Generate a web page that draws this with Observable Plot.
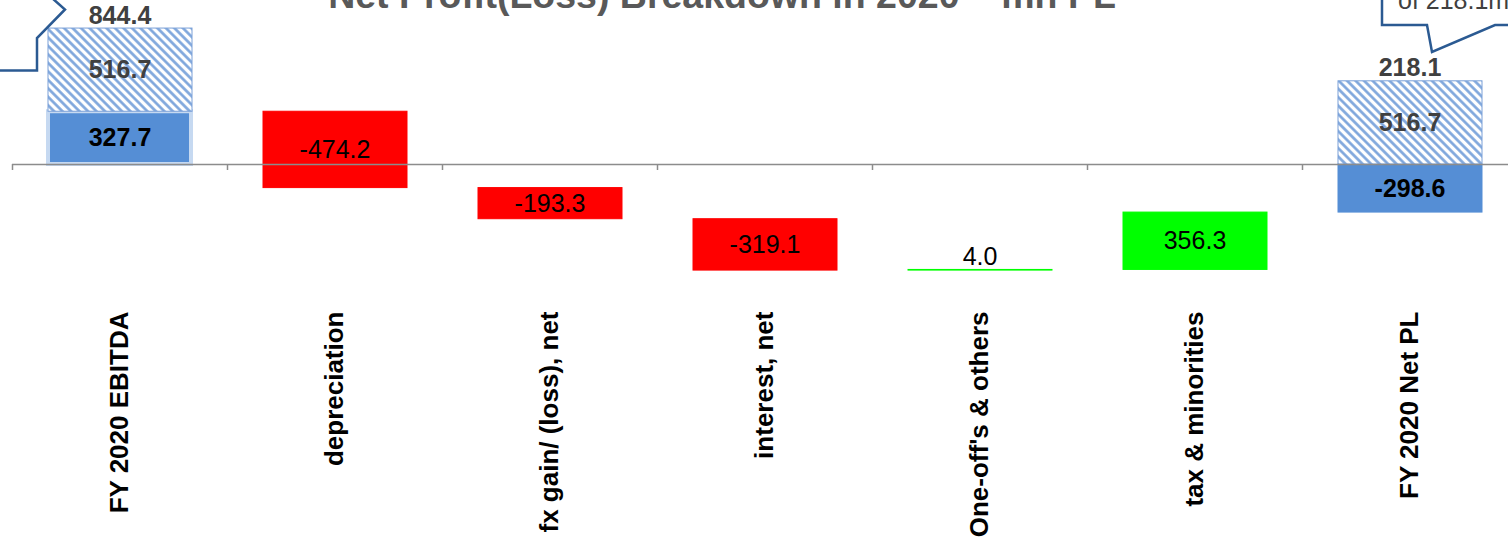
<!DOCTYPE html>
<html><head><meta charset="utf-8">
<script src="https://cdn.jsdelivr.net/npm/d3@7"></script>
<script src="https://cdn.jsdelivr.net/npm/@observablehq/plot@0.6"></script>
<style>
html,body{margin:0;padding:0;background:#fff;overflow:hidden}
#wrap{position:relative;width:1508px;height:542px;overflow:hidden;font-family:"Liberation Sans",Arial,sans-serif}
#title{position:absolute;left:0;width:1444px;text-align:center;top:-23px;font-size:37.5px;line-height:37.5px;font-weight:bold;color:#595959;white-space:nowrap}
#callouts{position:absolute;left:0;top:0;pointer-events:none}
#chart svg{display:block}
#chart g[aria-label="x-axis tick label"] text{font-weight:bold}
</style>
</head><body>
<div id="wrap">
  <div id="chart"></div>
  <div id="title">Net Profit(Loss) Breakdown in 2020 – mn PL</div>
  <svg id="callouts" width="1508" height="100">
    <path d="M0,70.5 L37,70.5 L37,38 L65,9.5 L52,-2" fill="none" stroke="#2b5a92" stroke-width="2.5" stroke-linejoin="miter"/>
    <path d="M1382,-2 L1382,25 L1427,25 L1432,52 L1495,25 L1512,25" fill="#fff" stroke="#2b5a92" stroke-width="2.5" stroke-linejoin="miter"/>
    <text x="1398" y="9" font-family="Liberation Sans, Arial, sans-serif" font-size="25" fill="#404040">of 218.1mn</text>
  </svg>
</div>
<script>
const categories = ["FY 2020 EBITDA", "depreciation", "fx gain/ (loss), net", "interest, net", "One-off's & others", "tax & minorities", "FY 2020 Net PL"];
const values = [327.7, -474.2, -193.3, -319.1, 4.0, 356.3, -298.6];
const kinds = ["total", "change", "change", "change", "change", "change", "total"];
const hatchCategories = ["FY 2020 EBITDA", "FY 2020 Net PL"];
const hatchValues = [516.7, 516.7];
const hatchTotals = [844.4, 218.1];

// waterfall rows
let cum = 0;
const rows = categories.map((c, i) => {
  const v = values[i];
  let y1, y2;
  if (kinds[i] === "total") { y1 = 0; y2 = v; cum = v; }
  else { y1 = cum; y2 = cum + v; cum += v; }
  const fill = kinds[i] === "total" ? "#558ed5" : (v < 0 ? "#ff0000" : "#00ff00");
  return {cat: c, v, y1, y2, kind: kinds[i], fill, label: v.toFixed(1)};
});
const hatchRows = hatchCategories.map((c, i) => {
  const base = Math.max(0, rows.find(r => r.cat === c).y2);
  return {cat: c, y1: base, y2: base + hatchValues[i], label: hatchValues[i].toFixed(1), total: hatchTotals[i].toFixed(1)};
});

const K = 0.161, Y0 = 164;
const defs = () => {
  const g = d3.create("svg:defs");
  const p = g.append("pattern").attr("id", "hatch").attr("patternUnits", "userSpaceOnUse")
    .attr("width", 6).attr("height", 6).attr("patternTransform", "rotate(-45)");
  p.append("rect").attr("width", 6).attr("height", 6).attr("fill", "#ffffff");
  p.append("line").attr("x1", 1.5).attr("y1", 0).attr("x2", 1.5).attr("y2", 6)
    .attr("stroke", "#7aa3db").attr("stroke-width", 2.6);
  return g.node();
};

const chart = Plot.plot({
  width: 1508,
  height: 542,
  marginLeft: 12,
  marginRight: 0,
  marginTop: 0,
  marginBottom: 237,
  style: {fontFamily: "Liberation Sans, Arial, sans-serif", background: "#fff", overflow: "visible"},
  x: {domain: categories, range: [12, 1517], padding: 0},
  y: {domain: [-700, 1000], range: [Y0 + K * 700, Y0 - K * 1000]},
  marks: [
    defs,
    Plot.barY(rows.filter(r => r.cat === "FY 2020 EBITDA"), {x: "cat", y1: "y1", y2: "y2", fill: "fill", stroke: "#c6d9f1", strokeWidth: 4, insetLeft: 36, insetRight: 36}),
    Plot.barY(rows.filter(r => r.cat !== "FY 2020 EBITDA"), {x: "cat", y1: "y1", y2: "y2", fill: "fill", stroke: "fill", strokeWidth: 1, insetLeft: 36, insetRight: 35}),
    Plot.barY(hatchRows, {x: "cat", y1: "y1", y2: "y2", fill: "url(#hatch)", stroke: "#7aa0d8", strokeWidth: 1, insetLeft: 36, insetRight: 35}),
    Plot.ruleY([0], {stroke: "#8c8c8c", strokeWidth: 1.5}),
    Plot.ruleX(categories, {x: d => d, y1: 0, y2: 0, insetBottom: -6, dx: -107.5, stroke: "#8c8c8c", strokeWidth: 1.5}),
    // change labels
    Plot.text(rows.filter(r => r.kind === "change" && Math.abs(r.v) > 20), {x: "cat", y: r => (r.y1 + r.y2) / 2, text: "label", fontSize: 25, fill: "#000"}),
    Plot.text(rows.filter(r => r.kind === "change" && Math.abs(r.v) <= 20), {x: "cat", y: r => Math.max(r.y1, r.y2), text: "label", fontSize: 25, fill: "#000", dy: -13}),
    // totals
    Plot.text(rows.filter(r => r.kind === "total"), {x: "cat", y: r => (r.y1 + r.y2) / 2, text: "label", fontSize: 25, fontWeight: "bold", fill: "#000"}),
    Plot.text(hatchRows, {x: "cat", y: r => (r.y1 + r.y2) / 2, text: "label", fontSize: 25, fontWeight: "bold", fill: "#404040"}),
    Plot.text(hatchRows, {x: "cat", y: "y2", text: "total", fontSize: 25, fontWeight: "bold", fill: "#404040", dy: -13}),
    Plot.axisX({anchor: "bottom", tickSize: 0, tickPadding: 6, tickRotate: -90, fontSize: 26, fontWeight: "bold", fill: "#000", label: null}),
    Plot.axisY({ticks: [], label: null, tickSize: 0})
  ]
});
document.getElementById("chart").appendChild(chart);
</script>
</body></html>
